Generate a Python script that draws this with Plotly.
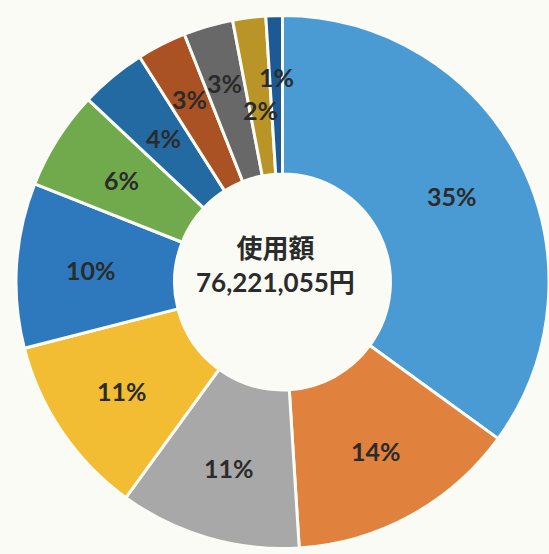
import math
import plotly.graph_objects as go

# Data
categories = ["項目1", "項目2", "項目3", "項目4", "項目5", "項目6",
              "項目7", "項目8", "項目9", "項目10", "項目11"]
shares = [35, 14, 11, 11, 10, 6, 4, 3, 3, 2, 1]
center_title = "使用額"
center_total = "76,221,055円"

# Styling
colors = ["#4a9ad3", "#e0813d", "#a8a8a8", "#f3bd33", "#2e79be", "#71aa4d",
          "#236aa3", "#ab5224", "#686868", "#b99426", "#1d5994"]
# radial nudges of the percentage labels (px, relative to the ring middle)
label_nudge = [3, 6, 6, 7, 5, 3, 0, 18, 20, -14, 18]

W, H = 549, 554
HOLE = 0.405
dom_x = [16 / W, 1.0]
dom_y = [5.5 / H, 538.5 / H]

fig = go.Figure(go.Pie(
    labels=categories,
    values=shares,
    sort=False,
    direction="clockwise",
    rotation=0,
    hole=HOLE,
    marker=dict(colors=colors, line=dict(color="#fcfcf7", width=3)),
    textinfo="none",
    showlegend=False,
    domain=dict(x=dom_x, y=dom_y),
))

# percentage labels placed at the middle angle of each slice
cx = W * (dom_x[0] + dom_x[1]) / 2
cy = H - H * (dom_y[0] + dom_y[1]) / 2
R = min(W * (dom_x[1] - dom_x[0]), H * (dom_y[1] - dom_y[0])) / 2
r_mid = R * (1 + HOLE) / 2
total = sum(shares)
cum = 0
for v, nudge in zip(shares, label_nudge):
    theta = 2 * math.pi * (cum + v / 2) / total
    cum += v
    r = r_mid + nudge
    px = cx + r * math.sin(theta)
    py = cy - r * math.cos(theta)
    fig.add_annotation(
        x=px / W, y=1 - py / H, xref="paper", yref="paper",
        text=f"{v}%", showarrow=False,
        xanchor="center", yanchor="middle",
        font=dict(family="Lato, Open Sans, sans-serif", size=25, color="#2b2b2b", weight="bold"),
    )

fig.add_annotation(
    x=275 / W, y=1 - 265.5 / H, xref="paper", yref="paper",
    text=center_title + "<br>" + center_total,
    showarrow=False,
    font=dict(family="Lato, Noto Sans CJK JP, sans-serif", size=26, color="#2b2b2b", weight="bold"),
    align="center",
)

fig.update_layout(
    width=W, height=H,
    margin=dict(l=0, r=0, t=0, b=0),
    paper_bgcolor="#fbfbf6",
    plot_bgcolor="#fbfbf6",
)

fig.write_html("out.html")
